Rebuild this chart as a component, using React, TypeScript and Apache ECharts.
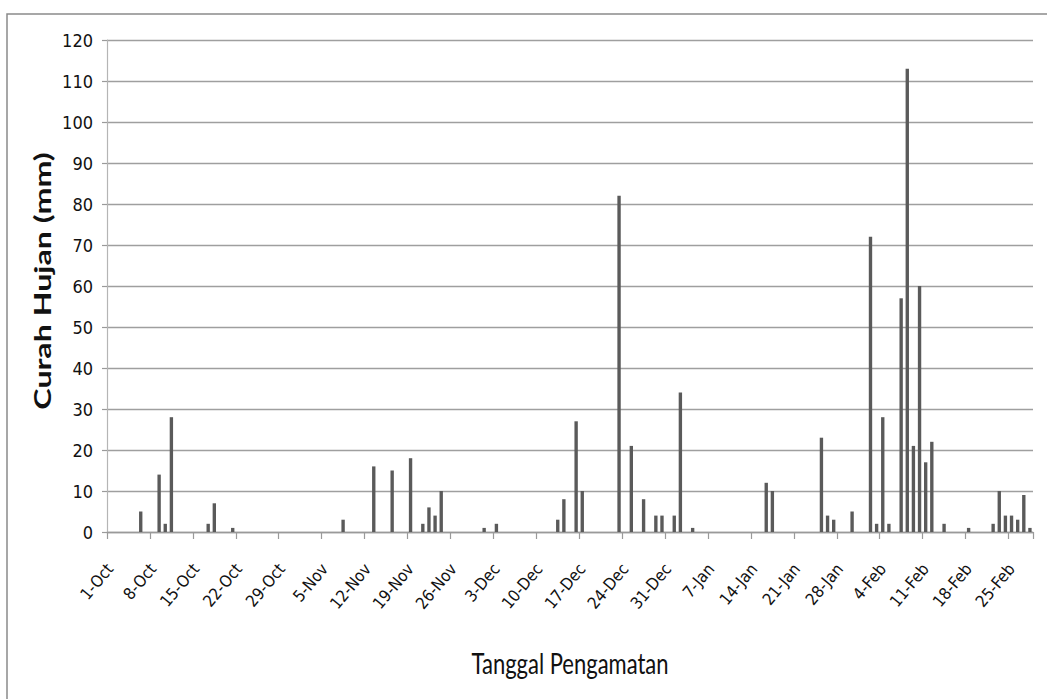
import React, { useEffect, useRef } from "react";
import * as echarts from "echarts";

const monthNames: string[] = ["Oct", "Nov", "Dec", "Jan", "Feb"];
const monthLengths: number[] = [31, 30, 31, 31, 28];

// Daily rainfall (mm), 1-Oct .. 28-Feb
const rainfall: number[] = [
  0, 0, 0, 0, 0, 5, 0, 0, 14, 2,
  28, 0, 0, 0, 0, 0, 2, 7, 0, 0,
  1, 0, 0, 0, 0, 0, 0, 0, 0, 0,
  0, 0, 0, 0, 0, 0, 0, 0, 3, 0,
  0, 0, 0, 16, 0, 0, 15, 0, 0, 18,
  0, 2, 6, 4, 10, 0, 0, 0, 0, 0,
  0, 1, 0, 2, 0, 0, 0, 0, 0, 0,
  0, 0, 0, 3, 8, 0, 27, 10, 0, 0,
  0, 0, 0, 82, 0, 21, 0, 8, 0, 4,
  4, 0, 4, 34, 0, 1, 0, 0, 0, 0,
  0, 0, 0, 0, 0, 0, 0, 12, 10, 0,
  0, 0, 0, 0, 0, 0, 23, 4, 3, 0,
  0, 5, 0, 0, 72, 2, 28, 2, 0, 57,
  113, 21, 60, 17, 22, 0, 2, 0, 0, 0,
  1, 0, 0, 0, 2, 10, 4, 4, 3, 9,
  1,
];

const categories: string[] = [];
monthNames.forEach((m, mi) => {
  for (let d = 1; d <= monthLengths[mi]; d++) categories.push(`${d}-${m}`);
});

const yTitle = "Curah Hujan (mm)";
const xTitle = "Tanggal Pengamatan";

const narrow = "'Liberation Sans Narrow', 'DejaVu Sans Condensed', sans-serif";

export default function App() {
  const ref = useRef<HTMLDivElement>(null);
  useEffect(() => {
    document.body.style.margin = "0";
    if (!ref.current) return;
    const chart = echarts.init(ref.current, null, { renderer: "svg" });
    chart.setOption({
      animation: false,
      backgroundColor: "#ffffff",
      grid: { left: 107, right: 14, top: 40, bottom: 167, containLabel: false },
      xAxis: {
        type: "category",
        data: categories,
        boundaryGap: true,
        axisLine: { show: true, lineStyle: { color: "#9a9a9a", width: 1.3 } },
        axisTick: {
          show: true,
          interval: 6,
          alignWithLabel: false,
          length: 7,
          lineStyle: { color: "#9a9a9a", width: 1.2 },
        },
        axisLabel: {
          interval: 6,
          rotate: 50,
          margin: 34,
          fontFamily: narrow,
          fontSize: 16.5,
          color: "#111111",
        },
        splitLine: { show: false },
      },
      yAxis: {
        type: "value",
        min: 0,
        max: 120,
        interval: 10,
        axisLine: { show: true, lineStyle: { color: "#b5b5b5", width: 1.2 } },
        axisTick: { show: true, length: 5, lineStyle: { color: "#9a9a9a", width: 1.2 } },
        axisLabel: {
          margin: 14,
          fontFamily: narrow,
          fontSize: 18,
          color: "#111111",
        },
        splitLine: { show: true, lineStyle: { color: "#9f9f9f", width: 1.3 } },
      },
      series: [
        {
          type: "bar",
          data: rainfall,
          barWidth: "55%",
          itemStyle: { color: "#5a5a5a" },
        },
      ],
      graphic: [
        {
          type: "rect",
          shape: { x: 7, y: 14, width: 1200, height: 900 },
          style: { fill: "none", stroke: "#8a8a8a", lineWidth: 1.5 },
          silent: true,
        },
        {
          type: "text",
          x: 42,
          y: 281,
          rotation: Math.PI / 2,
          scaleX: 1.4,
          style: {
            text: yTitle,
            fontFamily: "Lato, 'DejaVu Sans', sans-serif",
            fontWeight: "bold",
            fontSize: 23,
            fill: "#111111",
            textAlign: "center",
            textVerticalAlign: "middle",
          },
        },
        {
          type: "text",
          x: 570,
          y: 663,
          scaleY: 1.3,
          style: {
            text: xTitle,
            fontFamily: "Lato, 'DejaVu Sans', sans-serif",
            fontSize: 22,
            fill: "#111111",
            textAlign: "center",
            textVerticalAlign: "middle",
          },
        },
      ],
    });
    return () => chart.dispose();
  }, []);
  return <div ref={ref} style={{ width: 1047, height: 699 }} />;
}
